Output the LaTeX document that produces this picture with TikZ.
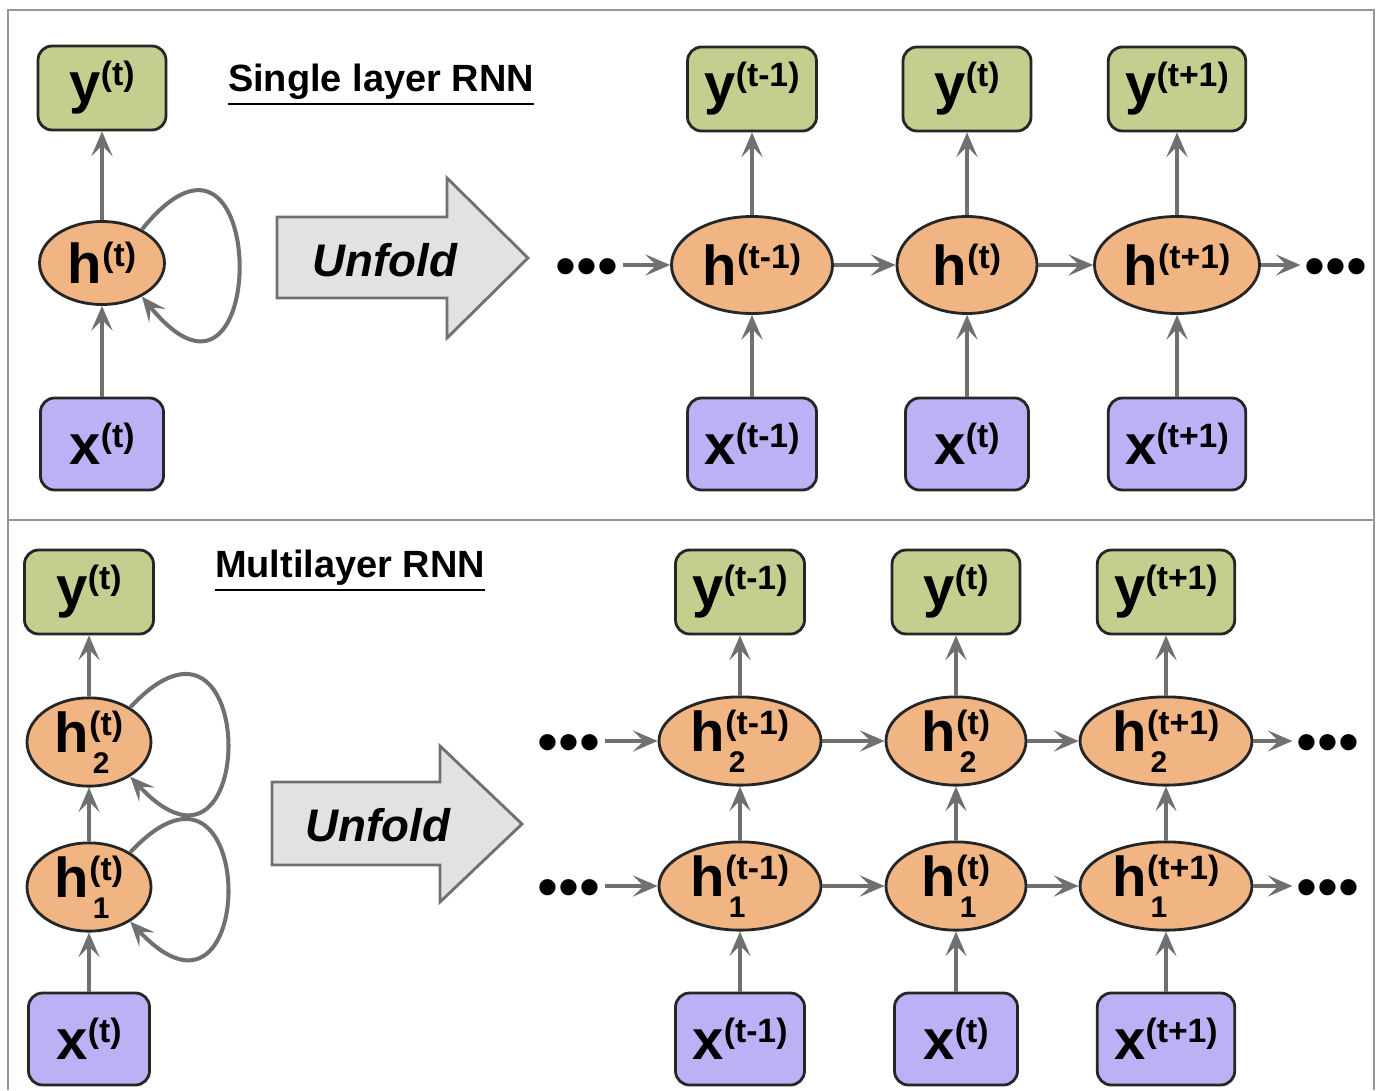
\documentclass[tikz,border=0pt]{standalone}
\usepackage{fontspec}
\setmainfont{Liberation Sans}
\usepackage{tikz}
\usetikzlibrary{arrows.meta,shapes.geometric}

\definecolor{outgreen}{RGB}{196,206,142}
\definecolor{hidorange}{RGB}{240,181,131}
\definecolor{inpurple}{RGB}{186,178,245}
\definecolor{arrgray}{RGB}{112,112,112}
\definecolor{framegray}{RGB}{150,150,150}
\definecolor{unfoldgray}{RGB}{226,226,226}

% symbol with time index, and with layer index below
\newcommand{\sups}[2]{#1\raisebox{4.8pt}{\fontsize{9.6}{11}\selectfont(#2)}}
\newcommand{\hsub}[2]{h\rlap{\raisebox{-6pt}{\fontsize{8.5}{9}\selectfont\hspace{1pt}#2}}\raisebox{4.8pt}{\fontsize{9.6}{11}\selectfont(#1)}}

\begin{document}
\begin{tikzpicture}[
  outbox/.style={draw=black!85, line width=0.8pt, fill=outgreen, rounded corners=4pt, minimum width=1.28cm, minimum height=0.84cm, inner xsep=0.17cm, font=\fontsize{16}{18}\selectfont\bfseries},
  inbox/.style={outbox, fill=inpurple, minimum width=1.23cm, minimum height=0.92cm},
  hid/.style={draw=black!85, line width=0.8pt, fill=hidorange, ellipse, inner sep=0pt, minimum width=1.40cm, minimum height=0.97cm, font=\fontsize{16}{18}\selectfont\bfseries},
  conn/.style={draw=arrgray, line width=1.15pt, -{Stealth[length=7pt,width=6pt,inset=3pt]}},
  title/.style={font=\fontsize{10.8}{13}\selectfont\bfseries},
  dots/.style={font=\fontsize{17}{17}\selectfont, inner sep=1pt, text height=12.4pt, text depth=0pt},
  unfold/.style={draw=arrgray, line width=0.8pt, fill=unfoldgray},
  lbl/.style={font=\fontsize{13}{15}\selectfont\bfseries\itshape}
]
\useasboundingbox (0,0) rectangle (13.77,10.90);

% Frame
\draw[framegray, line width=0.7pt] (0.08,0) -- (0.08,10.80) -- (13.74,10.80) -- (13.74,0);
\draw[framegray, line width=0.7pt] (0.08,5.70) -- (13.74,5.70);

% Single layer, folded
\node[title] (tS) at (3.81,10.05) {\underline{Single layer RNN}};
\node[outbox] (yS) at (1.02,10.02) {\sups{y}{t}};
\node[hid, minimum width=1.25cm, minimum height=0.83cm] (hS) at (1.02,8.27) {\sups{h}{t}};
\node[inbox] (xS) at (1.02,6.46) {\sups{x}{t}};

\draw[unfold] (2.77,7.92) -- (4.47,7.92) -- (4.47,7.52) -- (5.28,8.32) -- (4.47,9.12) -- (4.47,8.73) -- (2.77,8.73) -- cycle;
\node[lbl] (unfS) at (3.85,8.30) {Unfold};

% Single layer, unfolded
\node[outbox] (yS1) at (7.52,10.01) {\sups{y}{t-1}};
\node[outbox] (yS2) at (9.67,10.01) {\sups{y}{t}};
\node[outbox] (yS3) at (11.77,10.01) {\sups{y}{t+1}};
\node[hid, minimum width=1.61cm] (hS1) at (7.52,8.25) {\sups{h}{t-1}};
\node[hid] (hS2) at (9.67,8.25) {\sups{h}{t}};
\node[hid, minimum width=1.65cm] (hS3) at (11.77,8.25) {\sups{h}{t+1}};
\node[inbox] (xS1) at (7.52,6.46) {\sups{x}{t-1}};
\node[inbox] (xS2) at (9.67,6.46) {\sups{x}{t}};
\node[inbox] (xS3) at (11.77,6.46) {\sups{x}{t+1}};
\node[dots] (dS0) at (5.87,8.25) {•••};
\node[dots] (dS4) at (13.36,8.25) {•••};

\draw[conn] (xS) -- (hS);
\draw[conn] (hS) -- (yS);
\draw[conn] (hS.40) .. controls +(51:2.05) and +(-51:2.05) .. (hS.-40);
\draw[conn] (xS1) -- (hS1);
\draw[conn] (xS2) -- (hS2);
\draw[conn] (xS3) -- (hS3);
\draw[conn] (hS1) -- (yS1);
\draw[conn] (hS2) -- (yS2);
\draw[conn] (hS3) -- (yS3);
\draw[conn] (dS0) -- (hS1);
\draw[conn] (hS1) -- (hS2);
\draw[conn] (hS2) -- (hS3);
\draw[conn] (hS3) -- (dS4);

% Multilayer, folded
\node[title] (tM) at (3.50,5.19) {\underline{Multilayer RNN}};
\node[outbox, minimum width=1.29cm] (yM) at (0.89,4.98) {\sups{y}{t}};
\node[hid, minimum width=1.24cm, minimum height=0.85cm] (hM2) at (0.89,3.48) {\hsub{t}{2}};
\node[hid, minimum width=1.24cm, minimum height=0.85cm] (hM1) at (0.89,2.03) {\hsub{t}{1}};
\node[inbox, minimum width=1.21cm] (xM) at (0.89,0.51) {\sups{x}{t}};

\draw[unfold] (2.72,2.25) -- (4.40,2.25) -- (4.40,1.88) -- (5.22,2.66) -- (4.40,3.44) -- (4.40,3.08) -- (2.72,3.08) -- cycle;
\node[lbl] (unfM) at (3.78,2.65) {Unfold};

% Multilayer, unfolded
\node[outbox] (yM1) at (7.40,4.98) {\sups{y}{t-1}};
\node[outbox] (yM2) at (9.56,4.98) {\sups{y}{t}};
\node[outbox] (yM3) at (11.66,4.98) {\sups{y}{t+1}};
\node[hid, minimum width=1.62cm, minimum height=0.88cm] (hM21) at (7.40,3.49) {\hsub{t-1}{2}};
\node[hid, minimum height=0.88cm] (hM22) at (9.56,3.49) {\hsub{t}{2}};
\node[hid, minimum width=1.72cm, minimum height=0.88cm] (hM23) at (11.66,3.49) {\hsub{t+1}{2}};
\node[hid, minimum width=1.62cm, minimum height=0.88cm] (hM11) at (7.40,2.04) {\hsub{t-1}{1}};
\node[hid, minimum height=0.88cm] (hM12) at (9.56,2.04) {\hsub{t}{1}};
\node[hid, minimum width=1.72cm, minimum height=0.88cm] (hM13) at (11.66,2.04) {\hsub{t+1}{1}};
\node[inbox] (xM1) at (7.40,0.51) {\sups{x}{t-1}};
\node[inbox] (xM2) at (9.56,0.51) {\sups{x}{t}};
\node[inbox] (xM3) at (11.66,0.51) {\sups{x}{t+1}};
\node[dots] (dM20) at (5.69,3.49) {•••};
\node[dots] (dM24) at (13.28,3.49) {•••};
\node[dots] (dM10) at (5.69,2.04) {•••};
\node[dots] (dM14) at (13.28,2.04) {•••};

\draw[conn] (xM) -- (hM1);
\draw[conn] (hM1) -- (hM2);
\draw[conn] (hM2) -- (yM);
\draw[conn] (hM2.40) .. controls +(47:1.9) and +(-47:1.9) .. (hM2.-40);
\draw[conn] (hM1.40) .. controls +(47:1.9) and +(-47:1.9) .. (hM1.-40);
\draw[conn] (xM1) -- (hM11);
\draw[conn] (xM2) -- (hM12);
\draw[conn] (xM3) -- (hM13);
\draw[conn] (hM11) -- (hM21);
\draw[conn] (hM12) -- (hM22);
\draw[conn] (hM13) -- (hM23);
\draw[conn] (hM21) -- (yM1);
\draw[conn] (hM22) -- (yM2);
\draw[conn] (hM23) -- (yM3);
\draw[conn] (dM20) -- (hM21);
\draw[conn] (hM21) -- (hM22);
\draw[conn] (hM22) -- (hM23);
\draw[conn] (hM23) -- (dM24);
\draw[conn] (dM10) -- (hM11);
\draw[conn] (hM11) -- (hM12);
\draw[conn] (hM12) -- (hM13);
\draw[conn] (hM13) -- (dM14);
\end{tikzpicture}
\end{document}
